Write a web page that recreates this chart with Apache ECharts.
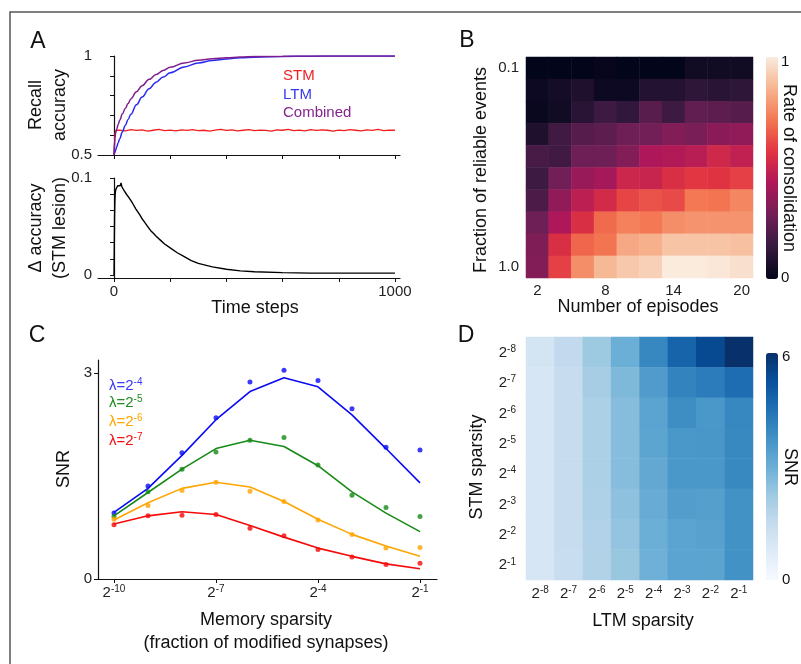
<!DOCTYPE html>
<html><head><meta charset="utf-8">
<script src="https://cdn.jsdelivr.net/npm/echarts@6/dist/echarts.min.js"></script>
<style>html,body{margin:0;padding:0;background:#fff}#c{width:801px;height:664px}</style>
</head><body><div id="c"></div>
<script>
// ---- Panel A data ----
var aTime = [0,3,6,10,15,20,30,40,50,60,80,100,125,150,175,200,250,300,350,400,450,500,600,700,800,900,1000];
var ltmAcc = [0.5,0.513,0.526,0.542,0.562,0.581,0.617,0.649,0.679,0.706,0.754,0.793,0.835,0.868,0.894,0.915,0.945,0.965,0.977,0.985,0.991,0.994,0.998,0.999,1,1,1];
var combinedAcc = [0.5,0.585,0.612,0.633,0.655,0.675,0.708,0.735,0.760,0.783,0.820,0.850,0.882,0.907,0.927,0.943,0.965,0.978,0.986,0.991,0.995,0.997,0.999,1,1,1,1];
var stmTime = [0,4,8,20,40,60,80,100,120,140,160,180,200,220,240,260,280,300,320,340,360,380,400,420,440,460,480,500,520,540,560,580,600,620,640,660,680,700,720,740,760,780,800,820,840,860,880,900,920,940,960,980,1000];
var stmAcc = [0.5,0.61,0.625,
 0.626,0.622,0.628,0.624,0.627,0.621,0.625,0.629,0.623,0.626,
 0.622,0.627,0.624,0.628,0.623,0.625,0.621,0.626,0.629,0.624,
 0.627,0.622,0.625,0.628,0.623,0.626,0.624,0.621,0.627,0.625,
 0.629,0.623,0.626,0.622,0.628,0.624,0.627,0.625,0.621,0.626,
 0.623,0.628,0.625,0.622,0.627,0.624,0.629,0.623,0.626,0.625];
var deltaTime = [0,1,2,3,4,6,8,10,13,16,19,22,25,28,32,36,40,45,50,55,60,66,72,78,85,92,100,110,120,130,140,150,165,180,200,225,250,275,300,350,400,450,500,600,700,800,900,1000];
var deltaAcc = [0,0.03,0.06,0.075,0.083,0.088,0.090,0.089,0.092,0.091,0.094,0.092,0.095,0.091,0.089,0.087,0.086,0.083,0.082,0.079,0.078,0.074,0.072,0.068,0.067,0.062,0.058,0.054,0.050,0.046,0.043,0.040,0.036,0.032,0.028,0.023,0.019,0.015,0.012,0.0085,0.006,0.0043,0.0034,0.0025,0.002,0.002,0.002,0.002];
var aXTicks = [0,200,400,600,800,1000];

// ---- Panel B data ----
var episodes = ['2','4','6','8','10','12','14','16','18','20'];
var reliableFrac = ['0.1','0.2','0.3','0.4','0.5','0.6','0.7','0.8','0.9','1.0'];
var consolidation = [
 [0.00,0.00,0.00,0.01,0.00,0.00,0.00,0.04,0.04,0.04],
 [0.03,0.05,0.08,0.03,0.03,0.09,0.09,0.12,0.11,0.12],
 [0.02,0.04,0.11,0.16,0.13,0.23,0.16,0.25,0.24,0.22],
 [0.08,0.17,0.22,0.24,0.28,0.29,0.33,0.31,0.35,0.36],
 [0.19,0.17,0.28,0.28,0.33,0.43,0.44,0.46,0.52,0.48],
 [0.16,0.29,0.38,0.41,0.51,0.50,0.55,0.58,0.57,0.60],
 [0.20,0.36,0.47,0.53,0.61,0.64,0.62,0.72,0.71,0.75],
 [0.28,0.43,0.55,0.69,0.74,0.72,0.77,0.78,0.78,0.78],
 [0.32,0.55,0.68,0.71,0.83,0.85,0.90,0.90,0.90,0.89],
 [0.33,0.60,0.77,0.87,0.91,0.93,1.00,1.00,0.99,0.97]];

// ---- Panel C data (x = log2 memory sparsity) ----
var sparsityExp = [-10,-9,-8,-7,-6,-5,-4,-3,-2,-1];
var blueDots = [0.96,1.355,1.84,2.35,2.87,3.04,2.89,2.48,1.92,1.88];
var blueLine = [0.97,1.32,1.80,2.32,2.73,2.93,2.80,2.39,1.90,1.40];
var greenDots = [0.91,1.27,1.60,1.85,2.02,2.06,1.66,1.22,1.04,0.91];
var greenLine = [0.92,1.26,1.60,1.90,2.02,1.93,1.65,1.27,0.96,0.69];
var orangeDots = [0.87,1.07,1.29,1.41,1.28,1.13,0.86,0.65,0.45,0.46];
var orangeLine = [0.86,1.11,1.32,1.41,1.34,1.13,0.87,0.65,0.48,0.33];
var redDots = [0.79,0.92,0.93,0.94,0.74,0.63,0.43,0.32,0.21,0.23];
var redLine = [0.80,0.92,0.98,0.94,0.78,0.61,0.45,0.33,0.22,0.15];
var cXTicks = [-10,-7,-4,-1];

// ---- Panel D data ----
var ltmSparsity = ['-8','-7','-6','-5','-4','-3','-2','-1'];
var stmSparsity = ['-8','-7','-6','-5','-4','-3','-2','-1'];
var snrGrid = [
 [1.1,1.55,2.25,3.0,4.0,4.8,5.4,6.0],
 [1.0,1.47,2.1,2.7,3.5,4.1,4.25,4.6],
 [1.0,1.47,1.98,2.6,3.3,3.85,3.6,4.0],
 [1.0,1.47,1.98,2.6,3.25,3.6,3.62,3.95],
 [1.0,1.47,1.98,2.6,3.15,3.6,3.6,3.95],
 [1.0,1.45,1.95,2.5,3.06,3.45,3.4,3.75],
 [1.0,1.43,1.9,2.4,3.0,3.3,3.35,3.75],
 [0.98,1.4,1.88,2.33,2.95,3.3,3.28,3.75]];

var FF = 'Liberation Sans, Arial, sans-serif';
function zip(xs, ys){ return xs.map(function(x,i){ return [x, ys[i]]; }); }
function heat(m){ var out=[]; m.forEach(function(row,r){ row.forEach(function(v,c){ out.push([c,r,v]); }); }); return out; }

var supRich = {
  b: {fontSize: 15, fontFamily: FF, color: '#222', lineHeight: 16, verticalAlign: 'bottom'},
  s: {fontSize: 10, fontFamily: FF, color: '#222', lineHeight: 10, verticalAlign: 'top', padding: [0,0,8,0]}
};
function supFmt(v){ return '{b|2}{s|' + v + '}'; }
function plainFmt(v){ return String(v); }

var lineAxis = {lineStyle: {color: '#111', width: 1.2}, onZero: false};
var tickStyle = {lineStyle: {color: '#111', width: 1}};
var lblStyle = {fontFamily: FF, fontSize: 15, color: '#222', formatter: plainFmt};

function txt(x, y, text, opts){
  opts = opts || {};
  return {type: 'text', x: x, y: y, rotation: opts.rot || 0, z: 100,
    style: {text: text, fill: opts.color || '#111', font: (opts.size || 18) + 'px ' + FF,
      textAlign: opts.align || 'center', textVerticalAlign: 'middle', align: opts.align || 'center', verticalAlign: 'middle',
      lineHeight: opts.lh || 20, rich: opts.rich}};
}
function lamRich(color){
  return {m: {fontSize: 15, fontFamily: FF, fill: color, verticalAlign: 'bottom', lineHeight: 16},
          s: {fontSize: 10, fontFamily: FF, fill: color, verticalAlign: 'top', lineHeight: 10, padding: [0,0,8,0]}};
}

var chart = echarts.init(document.getElementById('c'), null, {renderer: 'canvas'});
var option = {
  animation: false,
  backgroundColor: '#fff',
  grid: [
    {left: 98, top: 56, width: 302, height: 99, containLabel: false, outerBoundsMode: 'none'},
    {left: 98, top: 178, width: 302, height: 100, containLabel: false, outerBoundsMode: 'none'},
    {left: 526, top: 57, width: 227, height: 221, containLabel: false, outerBoundsMode: 'none'},
    {left: 98, top: 360, width: 339, height: 219, containLabel: false, outerBoundsMode: 'none'},
    {left: 526, top: 337, width: 227, height: 243, containLabel: false, outerBoundsMode: 'none'}
  ],
  xAxis: [
    {gridIndex: 0, type: 'value', min: -57, max: 1018, axisLine: lineAxis,
     axisTick: {length: 4, customValues: aXTicks, lineStyle: tickStyle.lineStyle}, axisLabel: {show: false}, splitLine: {show: false}},
    {gridIndex: 1, type: 'value', min: -57, max: 1018, axisLine: lineAxis,
     axisTick: {length: 4, customValues: aXTicks, lineStyle: tickStyle.lineStyle},
     axisLabel: Object.assign({customValues: [0, 1000], margin: 6}, lblStyle), splitLine: {show: false}},
    {gridIndex: 2, type: 'category', data: episodes, axisLine: {show: false}, axisTick: {show: false},
     axisLabel: Object.assign({interval: 2, margin: 5}, lblStyle), splitLine: {show: false}},
    {gridIndex: 3, type: 'value', min: -10.47, max: -0.5, axisLine: lineAxis,
     axisTick: {length: 4, customValues: cXTicks, lineStyle: tickStyle.lineStyle},
     axisLabel: {customValues: cXTicks, margin: 5, formatter: supFmt, rich: supRich}, splitLine: {show: false}},
    {gridIndex: 4, type: 'category', data: ltmSparsity, axisLine: {show: false}, axisTick: {show: false},
     axisLabel: {interval: 0, margin: 5, formatter: supFmt, rich: supRich}, splitLine: {show: false}}
  ],
  yAxis: [
    {gridIndex: 0, type: 'value', min: 0.5, max: 1, axisLine: {show: true, lineStyle: {color: '#111', width: 1.2}},
     axisTick: {show: true, length: 4, customValues: [0.5,0.6,0.7,0.8,0.9,1], lineStyle: tickStyle.lineStyle},
     axisLabel: Object.assign({customValues: [0.5, 1], margin: 6}, lblStyle), splitLine: {show: false}},
    {gridIndex: 1, type: 'value', min: -0.003, max: 0.1, axisLine: {show: true, lineStyle: {color: '#111', width: 1.2}},
     axisTick: {show: true, length: 4, customValues: [0,0.01667,0.03333,0.05,0.06667,0.08333,0.1], lineStyle: tickStyle.lineStyle},
     axisLabel: Object.assign({customValues: [0, 0.1], margin: 6}, lblStyle), splitLine: {show: false}},
    {gridIndex: 2, type: 'category', data: reliableFrac, inverse: true, axisLine: {show: false}, axisTick: {show: false},
     axisLabel: Object.assign({interval: 8, margin: 7}, lblStyle), splitLine: {show: false}},
    {gridIndex: 3, type: 'value', min: 0, max: 3.19, axisLine: {show: true, lineStyle: {color: '#111', width: 1.2}},
     axisTick: {show: true, length: 4, customValues: [0, 3], lineStyle: tickStyle.lineStyle},
     axisLabel: Object.assign({customValues: [0, 3], margin: 6}, lblStyle), splitLine: {show: false}},
    {gridIndex: 4, type: 'category', data: stmSparsity, inverse: true, axisLine: {show: false}, axisTick: {show: false},
     axisLabel: {interval: 0, margin: 10, formatter: supFmt, rich: supRich}, splitLine: {show: false}}
  ],
  visualMap: [
    {type: 'continuous', seriesIndex: 4, min: 0, max: 1, calculable: false, left: 766, top: 57, itemWidth: 12, itemHeight: 222,
     padding: 0, text: null, showLabel: false, hoverLink: false,
     inRange: {color: ['#03051A','#35193E','#701F57','#AD1759','#E13342','#F37651','#F6B48F','#FAEBDD']}},
    {type: 'continuous', seriesIndex: 13, min: 0, max: 6, calculable: false, left: 766, top: 353, itemWidth: 12, itemHeight: 227,
     padding: 0, text: null, showLabel: false, hoverLink: false,
     inRange: {color: ['#f7fbff','#deebf7','#c6dbef','#9ecae1','#6baed6','#4292c6','#2171b5','#08519c','#08306b']}}
  ],
  series: [
    {type: 'line', xAxisIndex: 0, yAxisIndex: 0, data: zip(stmTime, stmAcc), symbol: 'none', lineStyle: {color: '#f01e1e', width: 1.3}, z: 3},
    {type: 'line', xAxisIndex: 0, yAxisIndex: 0, data: zip(aTime, ltmAcc), symbol: 'none', smooth: 0.4, smoothMonotone: 'x', lineStyle: {color: '#2a2af2', width: 1.5}, z: 4},
    {type: 'line', xAxisIndex: 0, yAxisIndex: 0, data: zip(aTime, combinedAcc), symbol: 'none', smooth: 0.4, smoothMonotone: 'x', lineStyle: {color: '#7e1e8e', width: 1.5}, z: 5},
    {type: 'line', xAxisIndex: 1, yAxisIndex: 1, data: zip(deltaTime, deltaAcc), symbol: 'none', lineStyle: {color: '#000', width: 1.4}},
    {type: 'heatmap', xAxisIndex: 2, yAxisIndex: 2, data: heat(consolidation), itemStyle: {borderWidth: 0}},
    {type: 'line', xAxisIndex: 3, yAxisIndex: 3, data: zip(sparsityExp, blueLine), symbol: 'none', lineStyle: {color: '#0a0af5', width: 1.6}},
    {type: 'line', xAxisIndex: 3, yAxisIndex: 3, data: zip(sparsityExp, greenLine), symbol: 'none', lineStyle: {color: '#178a17', width: 1.6}},
    {type: 'line', xAxisIndex: 3, yAxisIndex: 3, data: zip(sparsityExp, orangeLine), symbol: 'none', lineStyle: {color: '#ffa500', width: 1.6}},
    {type: 'line', xAxisIndex: 3, yAxisIndex: 3, data: zip(sparsityExp, redLine), symbol: 'none', lineStyle: {color: '#f50a0a', width: 1.6}},
    {type: 'scatter', xAxisIndex: 3, yAxisIndex: 3, data: zip(sparsityExp, blueDots), symbolSize: 5, itemStyle: {color: '#0a0af5'}},
    {type: 'scatter', xAxisIndex: 3, yAxisIndex: 3, data: zip(sparsityExp, greenDots), symbolSize: 5, itemStyle: {color: '#178a17'}},
    {type: 'scatter', xAxisIndex: 3, yAxisIndex: 3, data: zip(sparsityExp, orangeDots), symbolSize: 5, itemStyle: {color: '#ffa500'}},
    {type: 'scatter', xAxisIndex: 3, yAxisIndex: 3, data: zip(sparsityExp, redDots), symbolSize: 5, itemStyle: {color: '#f50a0a'}},
    {type: 'heatmap', xAxisIndex: 4, yAxisIndex: 4, data: heat(snrGrid), itemStyle: {borderWidth: 0}}
  ],
  graphic: [
    {type: 'polyline', shape: {points: [[10,664],[10,12],[801,12]]}, style: {stroke: '#555', lineWidth: 1.5, fill: null}},
    txt(38, 42, 'A', {size: 23}), txt(467, 41, 'B', {size: 23}), txt(37, 336, 'C', {size: 23}), txt(466, 336, 'D', {size: 23}),
    txt(283, 76, 'STM', {size: 15, color: '#f02020', align: 'left'}),
    txt(283, 95, 'LTM', {size: 15, color: '#3838f0', align: 'left'}),
    txt(283, 113, 'Combined', {size: 15, color: '#84248f', align: 'left'}),
    txt(48, 105, 'Recall\naccuracy', {rot: Math.PI/2, lh: 24}),
    txt(48, 228, '\u0394 accuracy\n(STM lesion)', {rot: Math.PI/2, lh: 24}),
    txt(255, 308, 'Time steps'),
    txt(481, 170, 'Fraction of reliable events', {rot: Math.PI/2}),
    txt(638, 307, 'Number of episodes'),
    txt(781, 62, '1', {size: 15, align: 'left'}),
    txt(781, 278, '0', {size: 15, align: 'left'}),
    txt(789, 168, 'Rate of consolidation', {rot: -Math.PI/2}),
    txt(64, 469, 'SNR', {rot: Math.PI/2}),
    txt(266, 620, 'Memory sparsity'),
    txt(266, 643, '(fraction of modified synapses)'),
    txt(109, 385, '{m|\u03bb=2}{s|-4}', {align: 'left', color: '#3a3af5', rich: lamRich('#3a3af5')}),
    txt(109, 402, '{m|\u03bb=2}{s|-5}', {align: 'left', color: '#1e8c1e', rich: lamRich('#1e8c1e')}),
    txt(109, 421, '{m|\u03bb=2}{s|-6}', {align: 'left', color: '#ffa500', rich: lamRich('#ffa500')}),
    txt(109, 440, '{m|\u03bb=2}{s|-7}', {align: 'left', color: '#f51010', rich: lamRich('#f51010')}),
    txt(477, 467, 'STM sparsity', {rot: Math.PI/2}),
    txt(643, 621, 'LTM sparsity'),
    txt(782, 357, '6', {size: 15, align: 'left'}),
    txt(782, 580, '0', {size: 15, align: 'left'}),
    txt(790, 467, 'SNR', {rot: -Math.PI/2})
  ]
};
chart.setOption(option);
</script></body></html>
